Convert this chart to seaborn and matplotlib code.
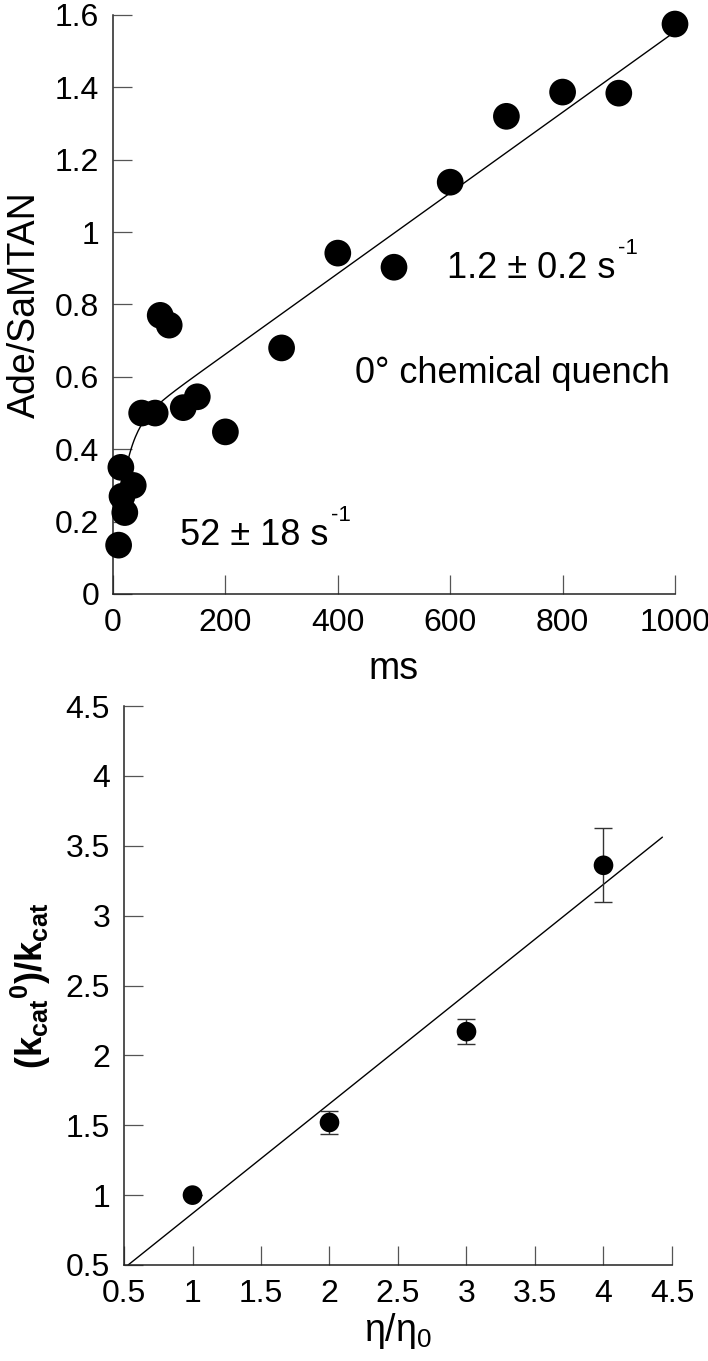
import numpy as np
import pandas as pd
import matplotlib
matplotlib.use("Agg")
import matplotlib.pyplot as plt
import seaborn as sns
from matplotlib.ticker import FuncFormatter

# ---------------- data (top panel) ----------------
time_ms = [10, 14, 16, 21, 36, 51, 75, 84, 100, 125, 150, 200, 300, 400, 500, 600, 700, 800, 900, 1000]
ade_ratio = [0.135, 0.35, 0.27, 0.225, 0.30, 0.50, 0.50, 0.77, 0.743, 0.515, 0.545, 0.448,
             0.68, 0.942, 0.903, 1.138, 1.32, 1.387, 1.384, 1.575]
# burst + steady-state fit parameters
fit_offset = 0.04
fit_burst_amp = 0.40
fit_k_burst = 0.052      # per ms (52 s^-1)
fit_v_ss = 0.001114      # per ms
fit_t_start, fit_t_end = 10, 1000

# ---------------- data (bottom panel) ----------------
eta_ratio = [1, 2, 3, 4]
kcat_ratio = [1.0, 1.52, 2.17, 3.36]
kcat_err = [0.0, 0.085, 0.09, 0.265]
line_slope = 0.785
line_intercept = 0.084
line_x_start, line_x_end = 0.53, 4.43

top_xticks = [0, 200, 400, 600, 800, 1000]
top_yticks = [0, 0.2, 0.4, 0.6, 0.8, 1.0, 1.2, 1.4, 1.6]
bot_ticks = [0.5, 1, 1.5, 2, 2.5, 3, 3.5, 4, 4.5]

# ---------------- style ----------------
sns.set_style("white")
plt.rcParams["font.family"] = ["Liberation Sans", "DejaVu Sans"]
plt.rcParams["text.color"] = "black"
plt.rcParams["axes.labelcolor"] = "black"
plt.rcParams["mathtext.fontset"] = "custom"
plt.rcParams["mathtext.rm"] = "Liberation Sans"
plt.rcParams["mathtext.it"] = "Liberation Sans:italic"
plt.rcParams["mathtext.bf"] = "Liberation Sans:bold"

fig = plt.figure(figsize=(7.08, 13.61), dpi=100)
W, H = 708, 1361

def add_ax(x0, x1, ytop, ybot):
    return fig.add_axes([x0 / W, 1 - ybot / H, (x1 - x0) / W, (ybot - ytop) / H])

fmt = FuncFormatter(lambda v, p: f"{v:g}")

def style_axes(ax):
    for s in ["top", "right"]:
        ax.spines[s].set_visible(False)
    for s in ["left", "bottom"]:
        ax.spines[s].set_color("#222222")
        ax.spines[s].set_linewidth(1.1)
    ax.tick_params(axis="both", direction="in", length=14, width=0.9, color="#555555",
                   labelsize=23, pad=10, labelcolor="black",
                   bottom=True, left=True, top=False, right=False)
    ax.xaxis.set_major_formatter(fmt)
    ax.yaxis.set_major_formatter(fmt)
    ax.grid(False)
    ax.set_facecolor("white")

def rate_label(ax, x, y, main):
    t = ax.text(x, y, main, fontsize=26, ha="left", va="baseline", color="black")
    ax.annotate("-1", xy=(1.0, 0.93), xycoords=t, xytext=(2, 0), textcoords="offset points",
                fontsize=16, ha="left", va="baseline", color="black")

# ---------------- top panel ----------------
ax1 = add_ax(113, 675, 15, 594)
df_top = pd.DataFrame({"t": time_ms, "r": ade_ratio})
t_fit = np.linspace(fit_t_start, fit_t_end, 400)
y_fit = fit_offset + fit_burst_amp * (1 - np.exp(-fit_k_burst * t_fit)) + fit_v_ss * t_fit
sns.lineplot(x=t_fit, y=y_fit, ax=ax1, color="black", linewidth=1.0, sort=False)
sns.scatterplot(data=df_top, x="t", y="r", ax=ax1, s=370, color="black",
                edgecolor="none", linewidth=0, clip_on=False, zorder=3)
ax1.set_xlim(0, 1000)
ax1.set_ylim(0, 1.6)
ax1.set_xticks(top_xticks)
ax1.set_yticks(top_yticks)
style_axes(ax1)
ax1.set_xlabel("ms", fontsize=27)
ax1.set_ylabel("Ade/SaMTAN", fontsize=27)
ax1.xaxis.set_label_coords(0.5, -0.098)
ax1.yaxis.set_label_coords(-0.125, 0.5)
rate_label(ax1, 594, 0.873, "1.2 ± 0.2 s")
ax1.text(430, 0.583, "0° chemical quench", fontsize=26, ha="left", va="baseline")
rate_label(ax1, 119, 0.135, "52 ± 18 s")

# ---------------- bottom panel ----------------
ax2 = add_ax(124, 672, 706, 1265)
df_bot = pd.DataFrame({"eta": eta_ratio, "k": kcat_ratio, "err": kcat_err})
x_line = np.array([line_x_start, line_x_end])
sns.lineplot(x=x_line, y=line_slope * x_line + line_intercept, ax=ax2,
             color="black", linewidth=1.0)
ax2.errorbar(df_bot["eta"], df_bot["k"], yerr=df_bot["err"], fmt="none",
             ecolor="#333333", elinewidth=1.0, capsize=6.5, capthick=1.0, zorder=2)
sns.scatterplot(data=df_bot, x="eta", y="k", ax=ax2, s=200, color="black",
                edgecolor="none", linewidth=0, zorder=3, clip_on=False)
ax2.set_xlim(0.5, 4.5)
ax2.set_ylim(0.5, 4.5)
ax2.set_xticks(bot_ticks)
ax2.set_yticks(bot_ticks)
style_axes(ax2)
ax2.set_xlabel("η/η$_0$", fontsize=27)
ax2.set_ylabel(r"$\mathbf{(k_{cat}{}^{0})/k_{cat}}$", fontsize=26)
ax2.xaxis.set_label_coords(0.5, -0.082)
ax2.yaxis.set_label_coords(-0.13, 0.5)

fig.savefig("out.png", dpi=100, facecolor="white")
